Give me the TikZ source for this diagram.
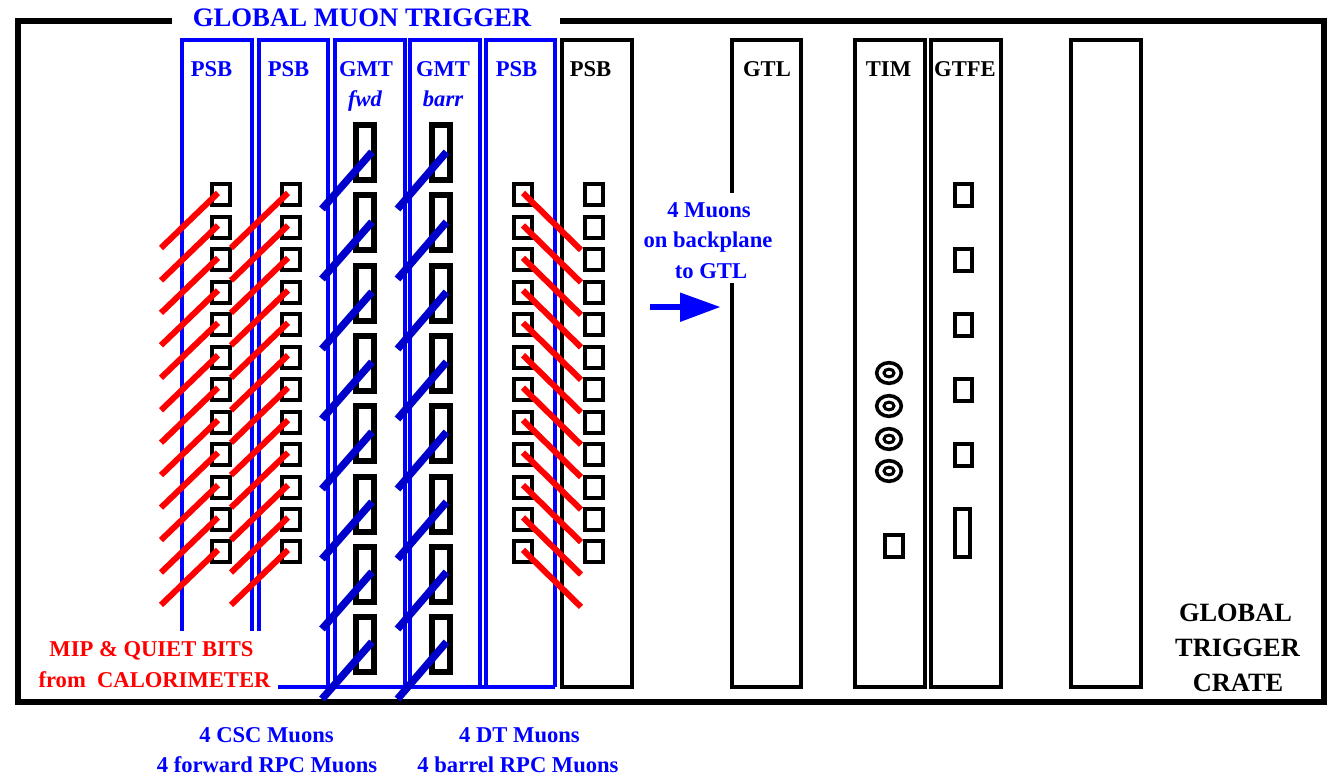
\documentclass[tikz,border=0pt]{standalone}
\usepackage{fontspec}
\setmainfont{Liberation Serif}
\definecolor{labblue}{RGB}{0,0,255}
\definecolor{darkb}{RGB}{0,0,205}
\tikzset{
  frameline/.style={draw=black,line width=5.5pt,line cap=butt},
  blueboard/.style={draw=labblue,line width=4pt},
  blackboard/.style={draw=black,line width=4pt},
  chip/.style={draw=black,line width=4pt},
  gmtchip/.style={draw=black,line width=6pt},
  redwire/.style={draw=red,line width=6pt},
  bluewire/.style={draw=darkb,line width=7.5pt},
  lab/.style={font=\fontsize{22.6}{27}\selectfont\bfseries,inner sep=0pt,text=labblue,anchor=base},
  labit/.style={lab,font=\fontsize{22.6}{27}\selectfont\bfseries\itshape},
  blk/.style={lab,text=black},
  bigblk/.style={lab,text=black,font=\fontsize{26.4}{30}\selectfont\bfseries},
  redlab/.style={lab,text=red}
}
\begin{document}
\begin{tikzpicture}[x=1pt,y=-1pt]
\useasboundingbox (0,0) rectangle (1327,775);
% outer frame
\draw[frameline] (172,21) -- (18,21) -- (18,702) -- (1324,702) -- (1324,21) -- (560,21);
% blue boards
\draw[blueboard] (182,631) -- (182,40) -- (251.5,40) -- (251.5,631);
\draw[blueboard] (259,631) -- (259,40) -- (328,40) -- (328,687);
\draw[blueboard] (335,687) -- (335,40) -- (405,40) -- (405,687);
\draw[blueboard] (410,687) -- (410,40) -- (480,40) -- (480,687);
\draw[blueboard] (485.5,687) -- (485.5,40) -- (555,40) -- (555,687);
\draw[blueboard,line cap=butt] (278,687) -- (555,687);
% black boards
\draw[blackboard] (562,40) rectangle (632,687);
\draw[blackboard] (731.5,193) -- (731.5,40) -- (801,40) -- (801,687) -- (731.5,687) -- (731.5,283);
\draw[blackboard] (855,40) rectangle (925,687);
\draw[blackboard] (931,40) rectangle (1001,687);
\draw[blackboard] (1071,40) rectangle (1141,687);
% small chips in the PSB columns
\foreach \i in {0,...,11}{
  \pgfmathsetmacro{\yy}{195+32.45*\i}
  \draw[chip] (212,\yy-10.5) rectangle (230,\yy+10.5);
  \draw[chip] (281.5,\yy-10.5) rectangle (299.5,\yy+10.5);
  \draw[chip] (514,\yy-10.5) rectangle (532,\yy+10.5);
  \draw[chip] (585,\yy-10.5) rectangle (603,\yy+10.5);
}
% GMT chips
\foreach \i in {0,...,7}{
  \pgfmathsetmacro{\yy}{125+70.3*\i}
  \draw[gmtchip] (356,\yy) rectangle (374,\yy+55);
  \draw[gmtchip] (432,\yy) rectangle (450,\yy+55);
}
% TIM and GTFE
\foreach \yy in {373,406,439,471}{
  \draw[black,line width=3.6pt] (889,\yy) ellipse [x radius=12.3,y radius=10.3];
  \draw[black,line width=3pt] (889,\yy) ellipse [x radius=5,y radius=3.9];
}
\draw[chip] (884.5,535) rectangle (902.5,557);
\foreach \yy in {195,260,325,390,455}{
  \draw[chip] (954.5,\yy-11) rectangle (972,\yy+11);
}
\draw[chip] (954.5,509) rectangle (970,557);
% wires
\foreach \i in {0,...,11}{
  \pgfmathsetmacro{\yy}{193+32.45*\i}
  \draw[redwire] (218,\yy) -- (161,\yy+55);
  \draw[redwire] (288,\yy) -- (231,\yy+55);
  \draw[redwire] (523,\yy) -- (581,\yy+57);
}
\foreach \i in {0,...,7}{
  \pgfmathsetmacro{\yy}{152+70*\i}
  \draw[bluewire] (372,\yy) -- (322,\yy+57);
  \draw[bluewire] (446.5,\yy) -- (397.5,\yy+57);
}
% arrow
\coordinate (arrowstart) at (650,307);
\coordinate (arrowneck) at (681,307);
\draw[draw=labblue,line width=6pt] (arrowstart) -- (arrowneck);
\fill[labblue] (680,292.5) -- (720,307) -- (680,322) -- cycle;
% labels
\node[lab,font=\fontsize{26.7}{30}\selectfont\bfseries] (title) at (362,27) {GLOBAL MUON TRIGGER};
\node[lab] (p1) at (211.5,77) {PSB};
\node[lab] (p2) at (288.5,77) {PSB};
\node[lab] (g1) at (366,77) {GMT};
\node[labit] (fwd) at (365,107) {fwd};
\node[lab] (g2) at (443,77) {GMT};
\node[labit] (barr) at (443,107) {barr};
\node[lab] (p3) at (516.5,77) {PSB};
\node[blk] (p4) at (590.5,77) {PSB};
\node[blk] (gtl) at (767,77) {GTL};
\node[blk] (tim) at (888.5,77) {TIM};
\node[blk] (gtfe) at (965,77) {GTFE};
\node[lab] (m1) at (709,218) {4 Muons};
\node[lab] (m2) at (708,248) {on backplane};
\node[lab] (m3) at (711,279) {to GTL};
\node[redlab] (mip) at (151.5,656) {MIP \& QUIET BITS};
\node[redlab] (calo) at (154.5,687) {from\ \ CALORIMETER};
\node[lab] (c1) at (266.5,742) {4 CSC Muons};
\node[lab] (c2) at (267,772) {4 forward RPC Muons};
\node[lab] (d1) at (519.5,742) {4 DT Muons};
\node[lab] (d2) at (518,772) {4 barrel RPC Muons};
\node[bigblk] (g) at (1235.5,621) {GLOBAL};
\node[bigblk] (t) at (1237.5,656) {TRIGGER};
\node[bigblk] (cr) at (1238,691) {CRATE};
\end{tikzpicture}
\end{document}
